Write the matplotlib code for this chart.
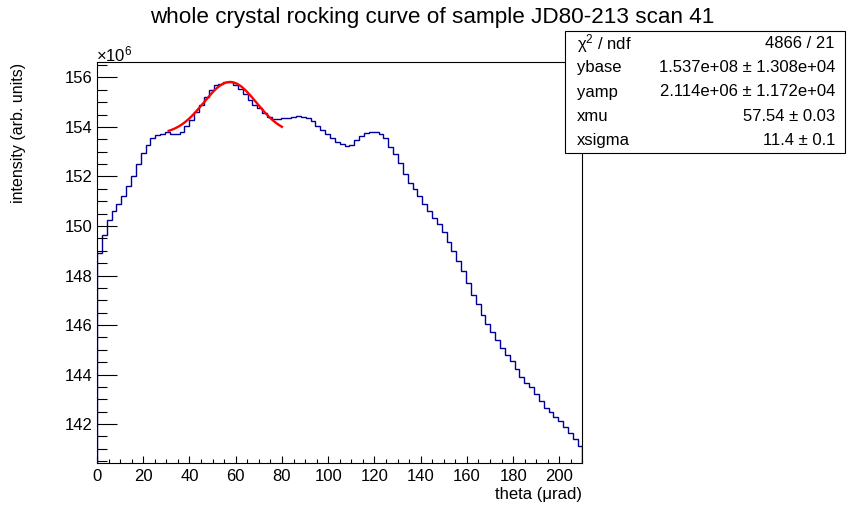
import numpy as np
import matplotlib
matplotlib.use("Agg")
import matplotlib.pyplot as plt
from matplotlib.patches import Rectangle
from matplotlib.ticker import MultipleLocator

plt.rcParams['font.family'] = ['Liberation Sans', 'DejaVu Sans']
plt.rcParams['mathtext.fontset'] = 'custom'
plt.rcParams['mathtext.rm'] = 'Liberation Sans'
plt.rcParams['mathtext.it'] = 'Liberation Sans:italic'

# ---- data ----
title = "whole crystal rocking curve of sample JD80-213 scan 41"
x_label = "theta (\u03bcrad)"
y_label = "intensity (arb. units)"
x_min, x_max, n_bins = 0.0, 210.0, 100
# bin contents in units of 1e6
counts = [
    148.92, 149.65, 150.25, 150.61, 150.90, 151.22, 151.62, 152.03, 152.50, 152.95,
    153.28, 153.54, 153.68, 153.73, 153.78, 153.73, 153.73, 153.81, 154.03, 154.26,
    154.60, 154.90, 155.20, 155.50, 155.70, 155.74, 155.80, 155.80, 155.68, 155.53,
    155.34, 155.10, 154.89, 154.75, 154.56, 154.39, 154.31, 154.32, 154.36, 154.37,
    154.41, 154.45, 154.41, 154.34, 154.22, 154.04, 153.88, 153.72, 153.56, 153.40,
    153.32, 153.24, 153.28, 153.48, 153.64, 153.77, 153.80, 153.80, 153.73, 153.56,
    153.20, 152.91, 152.55, 152.11, 151.74, 151.48, 151.22, 150.89, 150.61, 150.33,
    150.06, 149.76, 149.36, 149.00, 148.60, 148.17, 147.69, 147.23, 146.83, 146.42,
    146.06, 145.70, 145.41, 145.09, 144.81, 144.53, 144.24, 143.92, 143.68, 143.48,
    143.20, 142.95, 142.67, 142.47, 142.28, 142.11, 141.87, 141.66, 141.38, 141.10,
]
# Gaussian fit parameters (from stats box)
ybase = 1.537e8
yamp = 2.114e6
xmu = 57.54
xsigma = 11.4
fit_range = (31.0, 80.0)
stats_labels = ["\u03c7$^{2}$ / ndf", "ybase", "yamp", "xmu", "xsigma"]
stats_values = ["4866 / 21", "1.537e+08 \u00b1 1.308e+04", "2.114e+06 \u00b1 1.172e+04",
                "57.54 \u00b1 0.03", "11.4 \u00b1 0.1"]
y_lo, y_hi = 140.43, 156.62

# ---- figure ----
W, H = 862, 516
fig = plt.figure(figsize=(W / 100, H / 100), dpi=100)
ax = fig.add_axes([97 / W, 1 - 463 / H, (582.5 - 97) / W, (463 - 62) / H])

edges = np.linspace(x_min, x_max, n_bins + 1)
ax.stairs(counts, edges, baseline=y_lo, color='#000099', lw=1.0)

xf = np.linspace(fit_range[0], fit_range[1], 300)
yf = (ybase + yamp * np.exp(-0.5 * ((xf - xmu) / xsigma) ** 2)) / 1e6
ax.plot(xf, yf, color='#ff0000', lw=1.7)

ax.set_xlim(x_min, x_max)
ax.set_ylim(y_lo, y_hi)
ax.xaxis.set_major_locator(MultipleLocator(20))
ax.xaxis.set_minor_locator(MultipleLocator(5))
ax.yaxis.set_major_locator(MultipleLocator(2))
ax.yaxis.set_minor_locator(MultipleLocator(0.5))
for s in ax.spines.values():
    s.set_linewidth(0.8)
ax.tick_params(axis='x', which='major', direction='in', length=5.2, width=0.8,
               labelsize=12, pad=4, top=False)
ax.tick_params(axis='x', which='minor', direction='in', length=2.6, width=0.8, top=False)
ax.tick_params(axis='y', which='major', direction='in', length=14.4, width=0.8,
               labelsize=12, pad=3, right=False)
ax.tick_params(axis='y', which='minor', direction='in', length=7.2, width=0.8, right=False)

fig.text(432 / W, 1 - 18 / H, title, ha='center', va='center', fontsize=16.2)
fig.text(582.5 / W, 1 - 494 / H, x_label, ha='right', va='center', fontsize=12)
fig.text(19 / W, 1 - 63 / H, y_label, ha='center', va='top', rotation=90, fontsize=11.5)
fig.text(96 / W, 1 - 54 / H, r'$\mathregular{\times10^{6}}$', ha='left', va='center',
         fontsize=12)

# stats box
bx0, bx1, by0, by1 = 565, 845, 31, 153
fig.patches.append(Rectangle((bx0 / W, 1 - by1 / H), (bx1 - bx0) / W, (by1 - by0) / H,
                             transform=fig.transFigure, facecolor='white',
                             edgecolor='black', lw=0.8, zorder=5))
row_h = (by1 - by0) / len(stats_labels)
for i, (lab, val) in enumerate(zip(stats_labels, stats_values)):
    yc = by0 + row_h * (i + 0.5)
    fig.text((bx0 + 12) / W, 1 - yc / H, lab, ha='left', va='center', fontsize=12, zorder=6)
    fig.text((bx1 - 10) / W, 1 - yc / H, val, ha='right', va='center', fontsize=12, zorder=6)

fig.savefig("out.png", dpi=100)
